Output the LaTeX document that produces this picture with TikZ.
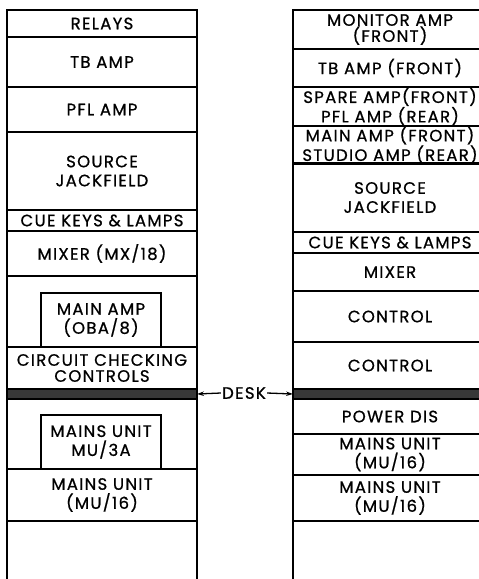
\documentclass[tikz,border=0pt]{standalone}
\usepackage{fontspec}
\setmainfont[LetterSpace=8,FakeBold=0.8]{Poppins}
\usetikzlibrary{arrows.meta}

\tikzset{
  unit/.style={draw, line width=2pt, anchor=north west, outer sep=0pt, inner sep=0pt,
    align=center, font=\fontsize{16.5}{19}\selectfont},
  tight/.style={font=\fontsize{16.5}{16}\selectfont},
  deskbar/.style={draw, line width=2pt, fill=black!78, anchor=north west, outer sep=0pt, inner sep=0pt},
  deskarrow/.style={line width=1.3pt, -{Stealth[length=7pt,width=4.5pt]}}
}

\begin{document}
\begin{tikzpicture}[x=1pt,y=-1pt]
  \path[use as bounding box, clip] (0,0) rectangle (479,579);

  \node[unit, minimum width=190, minimum height=27] (relays) at (7,10) {RELAYS};
  \node[unit, minimum width=190, minimum height=50] (tbL) at (7,37) {TB AMP};
  \node[unit, minimum width=190, minimum height=45] (pflL) at (7,87) {PFL AMP};
  \node[unit, minimum width=190, minimum height=78] (srcL) at (7,132) {SOURCE\\JACKFIELD};
  \node[unit, minimum width=190, minimum height=21] (cueL) at (7,210) {CUE KEYS \& LAMPS};
  \node[unit, minimum width=190, minimum height=45] (mixL) at (7,231) {MIXER (MX/18)};
  \node[unit, minimum width=190, minimum height=71] (ampbayL) at (7,276) {};
  \node[unit, minimum width=120, minimum height=54] (mainampL) at (41,293) {MAIN AMP\\(OBA/8)};
  \node[unit, tight, minimum width=190, minimum height=42] (chkL) at (7,347) {CIRCUIT CHECKING\\CONTROLS};
  \node[deskbar, minimum width=190, minimum height=10] (barL) at (7,389) {};
  \node[unit, minimum width=190, minimum height=70] (mainsbayL) at (7,399) {};
  \node[unit, minimum width=120, minimum height=54] (mu3L) at (41,415) {MAINS UNIT\\MU/3A};
  \node[unit, minimum width=190, minimum height=52] (mu16L) at (7,469) {MAINS UNIT\\(MU/16)};
  \coordinate (endLa) at (7,585);
  \coordinate (endLb) at (197,585);
  \draw[line width=2pt] (mu16L.south west) -- (endLa) (mu16L.south east) -- (endLb);

  \node[unit, tight, minimum width=194, minimum height=39] (monR) at (293,10) {MONITOR AMP\\(FRONT)};
  \node[unit, minimum width=194, minimum height=38] (tbR) at (293,49) {TB AMP (FRONT)};
  \node[unit, tight, minimum width=194, minimum height=39] (spareR) at (293,87) {SPARE AMP(FRONT)\\PFL AMP (REAR)};
  \node[unit, tight, minimum width=194, minimum height=37] (mainR) at (293,126) {MAIN AMP (FRONT)\\STUDIO AMP (REAR)};
  \node[unit, minimum width=194, minimum height=69] (srcR) at (293,163) {SOURCE\\JACKFIELD};
  \node[unit, minimum width=194, minimum height=21] (cueR) at (293,232) {CUE KEYS \& LAMPS};
  \node[unit, minimum width=194, minimum height=38] (mixR) at (293,253) {MIXER};
  \node[unit, minimum width=194, minimum height=51] (ctlaR) at (293,291) {CONTROL};
  \node[unit, minimum width=194, minimum height=47] (ctlbR) at (293,342) {CONTROL};
  \node[deskbar, minimum width=194, minimum height=10] (barR) at (293,389) {};
  \node[unit, minimum width=194, minimum height=35] (powR) at (293,399) {POWER DIS};
  \node[unit, minimum width=194, minimum height=41] (mu1R) at (293,434) {MAINS UNIT\\(MU/16)};
  \node[unit, minimum width=194, minimum height=46] (mu2R) at (293,475) {MAINS UNIT\\(MU/16)};
  \coordinate (endRa) at (293,585);
  \draw[line width=2pt] (mu2R.south west) -- (endRa);

  \node[font=\fontsize{16.5}{19}\selectfont, inner sep=1pt] (desk) at (244,393) {DESK};
  \draw[deskarrow] (desk.west) -- (barL.east);
  \draw[deskarrow] (desk.east) -- (barR.west);
\end{tikzpicture}
\end{document}
